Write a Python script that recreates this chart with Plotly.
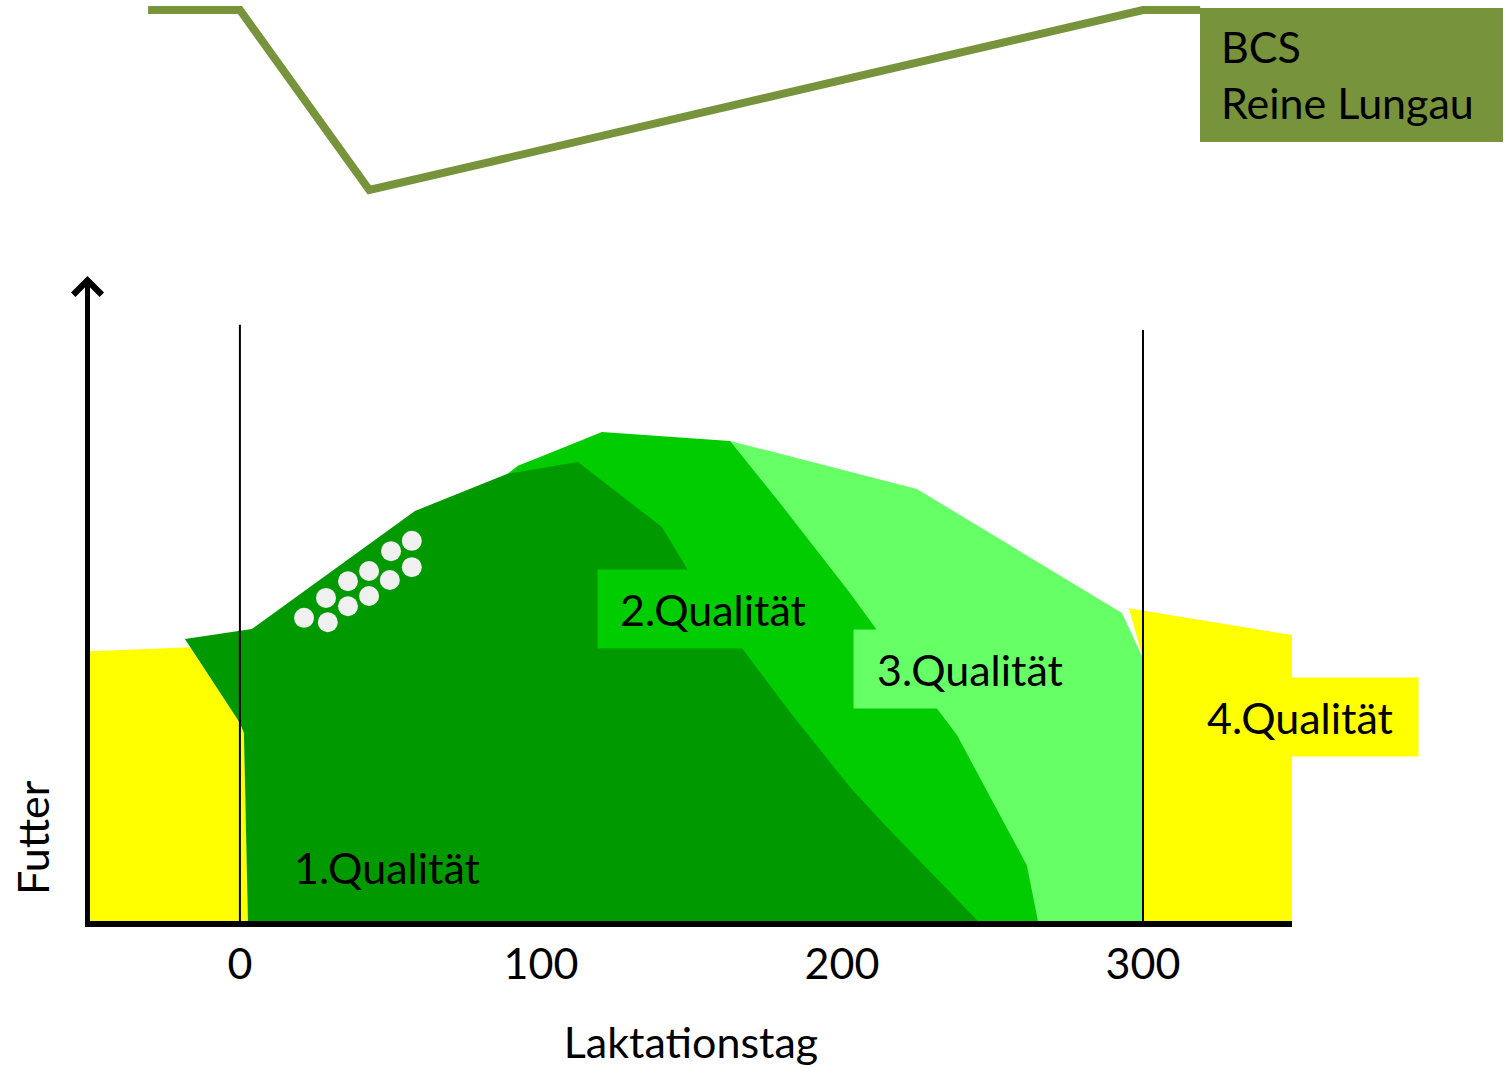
import plotly.graph_objects as go

# Feed quality areas along the lactation (day, feed level)
yellow_left_x = [-49.8, -16.6, 0.0, 1.33, 2.66, -49.8]
yellow_left_y = [42.1, 42.7, 30.9, 29.3, 0.0, 0.0]

yellow_right_x = [295.3, 349.5, 349.5, 300.0, 300.0]
yellow_right_y = [48.8, 44.6, 0.0, 0.0, 41.0]

q3_x = [152.8, 162.8, 224.9, 293.0, 300.0, 300.0, 152.8]
q3_y = [74.9, 74.9, 67.4, 48.05, 41.0, 0.0, 0.0]

q2_x = [88.7, 92.35, 103.0, 120.25, 162.8, 179.4, 202.6, 211.6, 231.5, 238.2, 261.4, 265.1, 88.7]
q2_y = [69.7, 71.0, 73.0, 76.3, 74.9, 65.2, 51.2, 45.4, 33.2, 29.0, 8.7, 0.0, 0.0]

q1_x = [-18.27, 3.99, 58.13, 88.7, 112.28, 140.19, 148.82, 166.76, 182.71, 202.64, 214.26, 245.16, 2.66, 1.33, 0.0]
q1_y = [44.0, 45.55, 63.96, 69.73, 71.61, 61.47, 54.76, 42.59, 32.6, 20.9, 14.98, 0.0, 0.0, 29.33, 30.89]

# Concentrate pellets
pellet_x = [21.3, 29.2, 28.6, 35.9, 35.9, 42.9, 42.9, 49.8, 50.2, 57.1, 57.1]
pellet_y = [47.3, 46.6, 50.4, 49.1, 53.0, 50.7, 54.6, 53.2, 57.7, 55.2, 59.3]

# Body condition score curve
bcs_x = [-30.5, 0, 43, 300, 319]
bcs_y = [3.5, 3.5, 2.75, 3.5, 3.5]

# Lactation markers (start / end)
marker_days = [0, 300]
marker_tops = [93.0, 92.2]

tick_vals = [0, 100, 200, 300]
tick_text = ["0", "100", "200", "300"]

FONT = "Lato"
YELLOW = "#FFFF00"
Q1 = "#009900"
Q2 = "#00CC00"
Q3 = "#66FF66"
BCS_GREEN = "#77933C"

# Plot-area geometry in pixels (used for paper-referenced decorations)
FIG_W, FIG_H = 1508, 1067
M_L, M_R, M_T, M_B = 90, 216, 0, 146
PLOT_W = FIG_W - M_L - M_R
PLOT_H = FIG_H - M_T - M_B


def px_x(p):
    return (p - M_L) / PLOT_W


def px_y(p):
    return (M_T + PLOT_H - p) / PLOT_H


fig = go.Figure()


def area(xs, ys, color):
    fig.add_trace(go.Scatter(
        x=xs, y=ys, fill="toself", fillcolor=color, mode="lines",
        line=dict(width=0, color=color), hoverinfo="skip", showlegend=False,
    ))


area(yellow_left_x, yellow_left_y, YELLOW)
area(yellow_right_x, yellow_right_y, YELLOW)
area(q3_x, q3_y, Q3)
area(q2_x, q2_y, Q2)
area(q1_x, q1_y, Q1)

fig.add_trace(go.Scatter(
    x=pellet_x, y=pellet_y, mode="markers",
    marker=dict(size=20, color="#F0F0F0", line=dict(width=0)),
    hoverinfo="skip", showlegend=False,
))

fig.add_trace(go.Scatter(
    x=bcs_x, y=bcs_y, mode="lines", yaxis="y2",
    line=dict(color=BCS_GREEN, width=8),
    hoverinfo="skip", showlegend=False,
))

for d, top in zip(marker_days, marker_tops):
    fig.add_shape(type="line", xref="x", yref="y", x0=d, x1=d, y0=0, y1=top,
                  line=dict(color="black", width=2), layer="above")

label_font = dict(family=FONT, size=43, color="black")

# Quality labels
fig.add_annotation(x=48.8, y=8.3, xref="x", yref="y", text="1.Qualität",
                   showarrow=False, font=label_font)
fig.add_annotation(x=157.1, y=48.7, xref="x", yref="y", text="2.Qualität",
                   showarrow=False, font=label_font, bgcolor=Q2,
                   width=230, height=78, borderpad=0)
fig.add_annotation(x=242.5, y=39.3, xref="x", yref="y", text="3.Qualität",
                   showarrow=False, font=label_font, bgcolor=Q3,
                   width=232, height=78, borderpad=0)
fig.add_annotation(x=px_x(1300), y=31.8, xref="paper", yref="y", text="4.Qualität",
                   xanchor="center", yanchor="middle",
                   showarrow=False, font=label_font, bgcolor=YELLOW,
                   width=236, height=78, borderpad=0)

# BCS legend box
fig.add_shape(type="rect", xref="paper", yref="paper",
              x0=px_x(1200), x1=px_x(1503), y0=px_y(142), y1=px_y(8),
              fillcolor=BCS_GREEN, line=dict(width=0), layer="below")
fig.add_annotation(x=px_x(1219), y=px_y(74), xref="paper", yref="paper",
                   xanchor="left", yanchor="middle", text="BCS<br>Reine Lungau",
                   align="left", showarrow=False, font=label_font)

# Y-axis arrow head
fig.add_annotation(x=0, y=px_y(276), xref="paper", yref="paper",
                   showarrow=True, ax=0, ay=30, text="", xshift=-2.5,
                   arrowhead=4, arrowsize=1.1, arrowwidth=5, arrowcolor="black")

# Y-axis title
fig.add_annotation(x=px_x(32), y=px_y(838), xref="paper", yref="paper",
                   xanchor="center", yanchor="middle",
                   text="Futter", textangle=-90, showarrow=False, font=label_font)

fig.update_layout(
    width=FIG_W, height=FIG_H, autosize=False,
    margin=dict(l=M_L, r=M_R, t=M_T, b=M_B),
    paper_bgcolor="white", plot_bgcolor="white",
    xaxis=dict(
        range=[-49.8, 349.5], showgrid=False, zeroline=False,
        showline=True, linewidth=6, linecolor="black",
        tickvals=tick_vals, ticktext=tick_text, ticks="",
        tickfont=dict(family=FONT, size=43, color="black"),
        title=dict(text="Laktationstag", font=dict(family=FONT, size=43, color="black"),
                   standoff=43),
    ),
    yaxis=dict(
        domain=[0, 0.696], range=[0, 100], showgrid=False, zeroline=False,
        showline=True, linewidth=5, linecolor="black",
        showticklabels=False, ticks="",
    ),
    yaxis2=dict(
        domain=[0.75, 1.0], range=[2.5823, 3.5417], anchor="x",
        visible=False, showgrid=False, zeroline=False,
    ),
)

fig.write_html("out.html")
